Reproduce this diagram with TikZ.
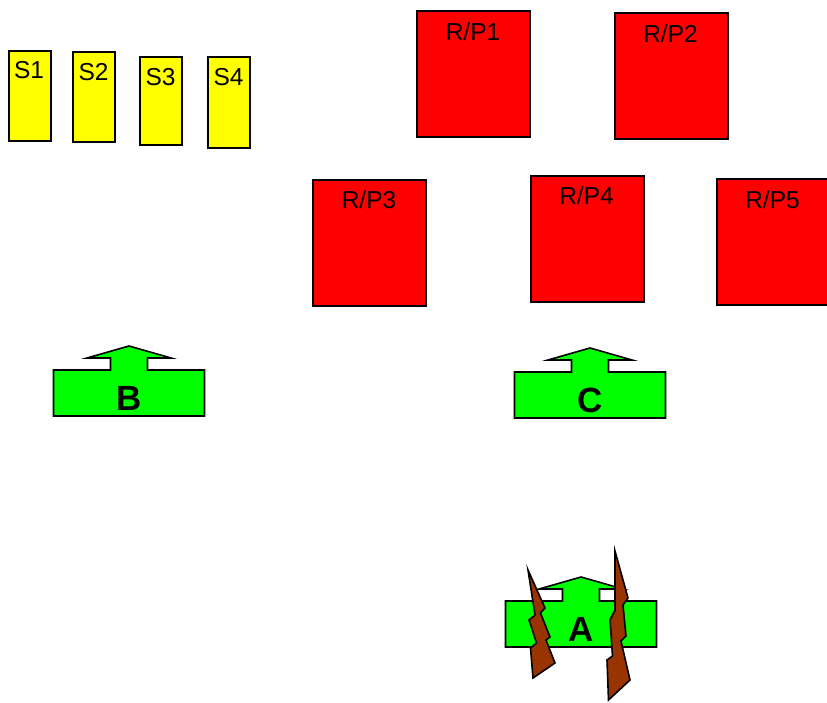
\documentclass[tikz,border=0pt]{standalone}
\usepackage{fontspec}
\setmainfont{Liberation Sans}
\definecolor{boxyellow}{HTML}{FFFF00}
\definecolor{boxred}{HTML}{FF0000}
\definecolor{doorgreen}{HTML}{00FF00}
\definecolor{boltbrown}{HTML}{993300}
\tikzset{
  base/.style={draw=black, line width=1.6pt, line join=miter},
  sbox/.style={base, fill=boxyellow, rectangle, anchor=north west, inner sep=0pt,
               minimum width=42pt, minimum height=90pt},
  rpbox/.style={base, fill=boxred, rectangle, anchor=north west, inner sep=0pt,
                minimum width=113pt, minimum height=126pt},
  boxlbl/.style={font=\fontsize{24.5}{28}\selectfont, inner sep=0pt, anchor=center},
  doorlbl/.style={font=\fontsize{35}{40}\selectfont\bfseries, inner sep=0pt, anchor=center},
  bolt/.style={base, fill=boltbrown},
  door/.pic={
    \draw[base, fill=doorgreen] (-75.5,0) -- (-75.5,-46) -- (-18.5,-46) -- (-18.5,-58)
      -- (-42,-58) -- (0,-70) -- (42,-58) -- (18.5,-58) -- (18.5,-46)
      -- (75.5,-46) -- (75.5,0) -- cycle;
  }
}
\begin{document}
\begin{tikzpicture}[x=1pt, y=-1pt]
\useasboundingbox (0,0) rectangle (827,702);
\begin{scope}
\clip (0,0) rectangle (827,702);
% yellow boxes
\node[sbox] (s1) at (8,50) {};
\node[sbox] (s2) at (72,51) {};
\node[sbox, minimum height=88pt] (s3) at (139,56) {};
\node[sbox, minimum height=91pt] (s4) at (207,56) {};
\node[boxlbl] (s1l) at (29,70) {S1};
\node[boxlbl] (s2l) at (93.5,72) {S2};
\node[boxlbl] (s3l) at (160.5,77) {S3};
\node[boxlbl] (s4l) at (228.5,77) {S4};
% red boxes
\node[rpbox] (rp1) at (416,10) {};
\node[rpbox] (rp2) at (614,12) {};
\node[rpbox] (rp3) at (312,179) {};
\node[rpbox] (rp4) at (530,175) {};
\node[rpbox] (rp5) at (716,178) {};
\node[boxlbl] (rp1l) at (473,32) {R/P1};
\node[boxlbl] (rp2l) at (670.5,34) {R/P2};
\node[boxlbl] (rp3l) at (369,200) {R/P3};
\node[boxlbl] (rp4l) at (586.5,196) {R/P4};
\node[boxlbl] (rp5l) at (772.5,200) {R/P5};
% green doors
\pic at (129,416) {door};
\pic at (590,418) {door};
\pic at (581,647) {door};
\node[doorlbl] (bl) at (129,398) {B};
\node[doorlbl] (cl) at (590,400) {C};
\node[doorlbl] (al) at (581,629) {A};
% lightning bolts
\draw[bolt] (528,570) -- (545,608) -- (540.5,613) -- (550,637) -- (546,640) -- (555,663)
  -- (533,678) -- (530.5,648) -- (536.5,643) -- (529,620) -- (535,615) -- cycle;
\draw[bolt] (615,551) -- (628,598) -- (623,605) -- (626,636) -- (621,641) -- (630,680)
  -- (608.5,700) -- (607,660) -- (612.5,656) -- (610,620) -- (615,610) -- cycle;
\end{scope}
\end{tikzpicture}
\end{document}
